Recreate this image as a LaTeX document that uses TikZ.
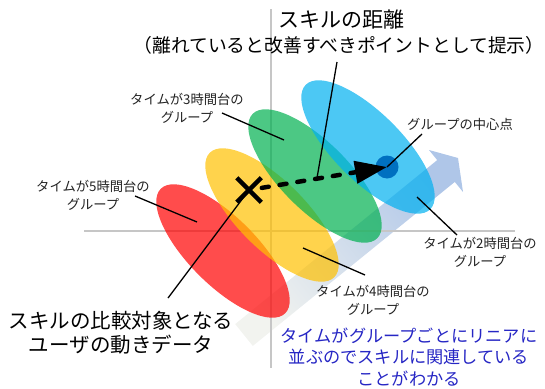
\documentclass[tikz,border=0pt]{standalone}
\usepackage{fontspec}
\newfontfamily\jp{Noto Sans CJK JP}
\usetikzlibrary{shapes.geometric,shapes.misc,arrows.meta}
\definecolor{axisgray}{HTML}{C6C6C6}
\definecolor{gred}{HTML}{FF0000}
\definecolor{gyellow}{HTML}{FFC000}
\definecolor{ggreen}{HTML}{00B050}
\definecolor{gblue}{HTML}{00B0F0}
\definecolor{dotblue}{HTML}{0070C0}
\definecolor{bandtop}{HTML}{AFC6E8}
\definecolor{bandbot}{HTML}{F2F3EF}
\definecolor{notetext}{HTML}{2626C4}
\definecolor{labeltext}{HTML}{222222}
\begin{document}
\begin{tikzpicture}[x=1pt,y=-1pt,
  group/.style={ellipse, inner sep=0pt, minimum width=176pt, minimum height=68pt, rotate=-45, fill opacity=0.7},
  small/.style={font=\jp\fontsize{13.3}{18}\selectfont, text=labeltext, align=center, inner sep=0pt},
  big/.style={font=\jp\fontsize{20.5}{24}\selectfont, text=black, align=center, inner sep=0pt},
  leader/.style={draw=black, line width=1.3pt},
  axisline/.style={draw=axisgray, line width=2.4pt},
]
\useasboundingbox (0,0) rectangle (545,388);
% trend band
\shade[top color=bandtop, bottom color=bandbot, shading angle=-51]
  (252.8,345.9) -- (454.8,181.9) -- (463,192) -- (458,158) -- (429,150)
  -- (437.2,160.1) -- (235.2,324.1) -- cycle;
% axes
\coordinate (axT) at (271,9);
\coordinate (axB) at (271,368);
\coordinate (axL) at (84,231);
\coordinate (axR) at (515,231);
\draw[axisline] (axT) -- (axB);
\draw[axisline] (axL) -- (axR);
% groups
\node[group, fill=gred]    (g5) at (223,251) {};
\node[group, fill=gyellow] (g4) at (272,215) {};
\node[group, fill=ggreen]  (g3) at (315,176) {};
\node[group, fill=gblue]   (g2) at (368,147) {};
\node[circle, fill=dotblue, minimum size=23pt, inner sep=0pt] (dot) at (387,167) {};
% texts
\node[font=\jp\fontsize{21}{24}\selectfont, inner sep=0pt] (title1) at (341,20) {スキルの距離};
\node[font=\jp\fontsize{18.8}{22}\selectfont, inner sep=0pt] (title2) at (339,45) {（離れていると改善すべきポイントとして提示）};
\node[small] (t3) at (187,108) {タイムが3時間台の\\グループ};
\node[small] (tc) at (460,124) {グループの中心点};
\node[small] (t5) at (93,195) {タイムが5時間台の\\グループ};
\node[small] (t2) at (480,252) {タイムが2時間台の\\グループ};
\node[small] (t4) at (373,300) {タイムが4時間台の\\グループ};
\node[big] (tb) at (121,333) {スキルの比較対象となる\\ユーザの動きデータ};
\node[font=\jp\fontsize{17.2}{21.8}\selectfont, text=notetext, align=center, inner sep=0pt] (note) at (409,357) {タイムがグループごとにリニアに\\並ぶのでスキルに関連している\\ことがわかる};
% leader ends
\coordinate (l1a) at (337,62);   \coordinate (l1b) at (317,178);
\coordinate (l3a) at (222,113);  \coordinate (l3b) at (284,140);
\coordinate (lca) at (422,134);
\coordinate (l5a) at (135,196);  \coordinate (l5b) at (197,222);
\coordinate (l2a) at (417,197);  \coordinate (l2b) at (457,235);
\coordinate (l4a) at (303,248);  \coordinate (l4b) at (365,275);
\coordinate (lba) at (168,298);
\node[cross out, draw=black, line width=4.5pt, minimum size=20pt, inner sep=0pt] (xmark) at (249,190) {};
% dashed distance arrow
\draw[line width=4.5pt, dash pattern=on 7pt off 11pt, line cap=round,
      -{Triangle[length=32pt,width=22pt]}, shorten <=13pt] (xmark.center) -- (dot.center);
% leaders
\draw[leader] (l1a) -- (l1b);
\draw[leader] (l3a) -- (l3b);
\draw[leader] (lca) -- (dot.center);
\draw[leader] (l5a) -- (l5b);
\draw[leader] (l2a) -- (l2b);
\draw[leader] (l4a) -- (l4b);
\draw[leader] (lba) -- (xmark.center);
\end{tikzpicture}
\end{document}
